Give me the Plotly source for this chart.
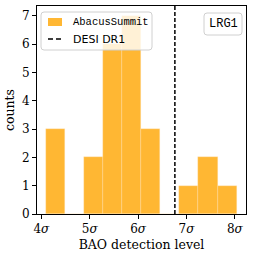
import numpy as np
import plotly.graph_objects as go

# Data
bin_edges = [4.095, 4.489, 4.883, 5.277, 5.671, 6.065, 6.459, 6.853, 7.247, 7.641, 8.035]
counts = [3, 0, 2, 6, 7, 3, 0, 1, 2, 1]
desi_dr1 = 6.76
x_ticks = [4, 5, 6, 7, 8]
x_tick_labels = ["4<i>σ</i>", "5<i>σ</i>", "6<i>σ</i>", "7<i>σ</i>", "8<i>σ</i>"]
y_ticks = [0, 1, 2, 3, 4, 5, 6, 7]
series_name = "AbacusSummit"
line_name = "DESI DR1"
tracer_label = "LRG1"

edges = np.array(bin_edges)
centers = (edges[:-1] + edges[1:]) / 2
widths = np.diff(edges)

serif = "DejaVu Serif"
mono = "Liberation Mono"
bar_color = "rgba(255,165,0,0.8)"
W, H = 253, 257
ML, MR, MT, MB = 37, 7, 6, 43
PW, PH = W - ML - MR, H - MT - MB


def px(x):  # pixel -> paper x
    return (x - ML) / PW


def py(y):  # pixel -> paper y
    return (H - MB - y) / PH


def rounded_box(x0, y0, x1, y1, r=3):
    rx, ry = r / PW, r / PH
    a, b, c, d = px(x0), py(y1), px(x1), py(y0)
    return (f"M{a+rx},{b} L{c-rx},{b} Q{c},{b} {c},{b+ry} L{c},{d-ry} Q{c},{d} {c-rx},{d} "
            f"L{a+rx},{d} Q{a},{d} {a},{d-ry} L{a},{b+ry} Q{a},{b} {a+rx},{b} Z")


fig = go.Figure()
fig.add_trace(go.Bar(
    x=centers, y=counts, width=widths, name=series_name,
    marker=dict(color=bar_color, line=dict(color="rgba(255,235,200,0.6)", width=0.5)),
    showlegend=False,
))
fig.add_vline(x=desi_dr1, line=dict(color="black", dash="4px,2px", width=1.5), layer="above")

# legend (drawn by hand to mimic the reference layout)
fig.add_shape(type="path", xref="paper", yref="paper", path=rounded_box(41, 12, 152, 50),
              fillcolor="rgba(255,255,255,0.8)", line=dict(color="#d0d0d0", width=1), layer="above")
fig.add_shape(type="rect", xref="paper", yref="paper", x0=px(48), x1=px(62), y0=py(26), y1=py(18),
              fillcolor=bar_color, line=dict(width=0), layer="above")
fig.add_shape(type="line", xref="paper", yref="paper", x0=px(48), x1=px(63), y0=py(39), y1=py(39),
              line=dict(color="black", width=1.5, dash="5px,3px"), layer="above")
fig.add_annotation(xref="paper", yref="paper", x=px(71), y=py(22), xanchor="left", yanchor="middle",
                   text=series_name, showarrow=False, font=dict(family=mono, size=10.5, color="black"))
fig.add_annotation(xref="paper", yref="paper", x=px(71), y=py(39.5), xanchor="left", yanchor="middle",
                   text=line_name, showarrow=False, font=dict(family="DejaVu Sans", size=11, color="black"))

# tracer label box
fig.add_shape(type="path", xref="paper", yref="paper", path=rounded_box(204, 13, 242, 35),
              fillcolor="white", line=dict(color="#d0d0d0", width=1), layer="above")
fig.add_annotation(xref="paper", yref="paper", x=px(223), y=py(24), xanchor="center", yanchor="middle",
                   text=tracer_label, showarrow=False, font=dict(family=mono, size=12, color="black"))

fig.update_layout(
    width=W, height=H,
    margin=dict(l=ML, r=MR, t=MT, b=MB),
    plot_bgcolor="white", paper_bgcolor="white",
    bargap=0,
    showlegend=False,
    font=dict(family=serif, size=12, color="black"),
)
fig.update_xaxes(range=[3.91, 8.23], tickvals=x_ticks, ticktext=x_tick_labels,
                 ticks="outside", ticklen=4, tickcolor="black",
                 showline=True, linecolor="black", linewidth=1, mirror=True,
                 showgrid=False, zeroline=False,
                 title=dict(text="BAO detection level", font=dict(family=serif, size=12.5), standoff=4),
                 tickfont=dict(family=serif, size=12))
fig.update_yaxes(range=[0, 7.35], tickvals=y_ticks,
                 ticks="outside", ticklen=4, tickcolor="black",
                 showline=True, linecolor="black", linewidth=1, mirror=True,
                 showgrid=False, zeroline=False,
                 title=dict(text="counts", font=dict(family=serif, size=12.5), standoff=4),
                 tickfont=dict(family=serif, size=12))
fig.write_html("out.html", config={"displayModeBar": False},
               post_script="document.body.style.margin='0';document.body.style.overflow='hidden';")
